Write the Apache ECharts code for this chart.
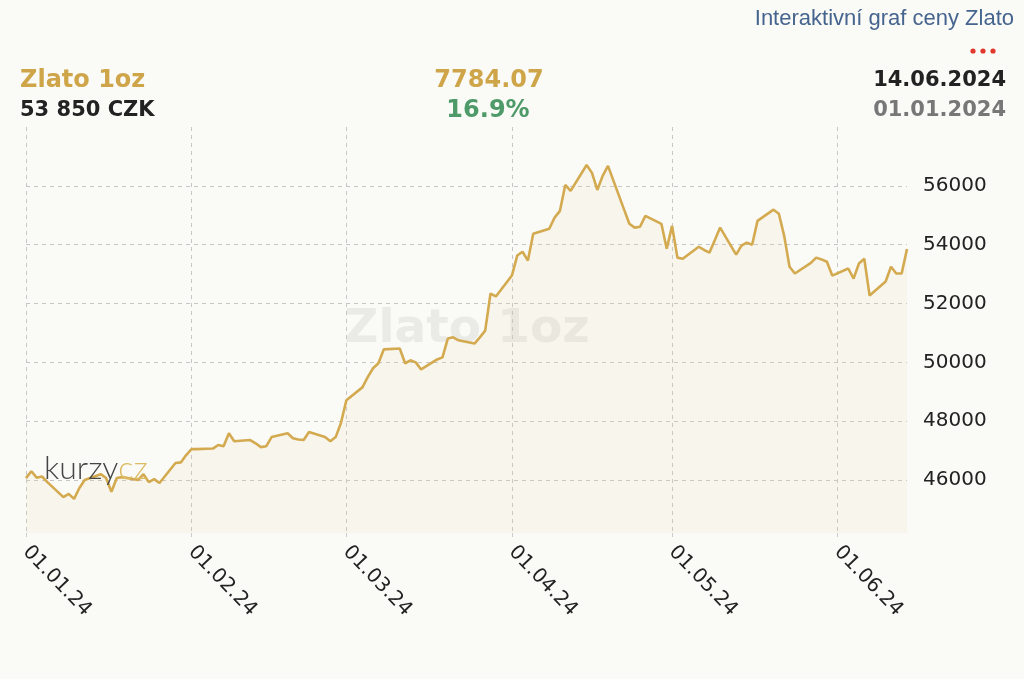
<!DOCTYPE html>
<html>
<head>
<meta charset="utf-8">
<script src="https://cdn.jsdelivr.net/npm/echarts@6/dist/echarts.min.js"></script>
<style>
html,body{margin:0;padding:0;background:#fafaf7;}
#c{width:1024px;height:679px;}
</style>
</head>
<body>
<div id="c"></div>
<script>
// ---- data ----
const dates = [
 '2024-01-01','2024-01-02','2024-01-03','2024-01-04','2024-01-05',
 '2024-01-08','2024-01-09','2024-01-10','2024-01-11','2024-01-12',
 '2024-01-15','2024-01-16','2024-01-17','2024-01-18','2024-01-19',
 '2024-01-22','2024-01-23','2024-01-24','2024-01-25','2024-01-26',
 '2024-01-29','2024-01-30','2024-01-31','2024-02-01','2024-02-02',
 '2024-02-05','2024-02-06','2024-02-07','2024-02-08','2024-02-09',
 '2024-02-12','2024-02-13','2024-02-14','2024-02-15','2024-02-16',
 '2024-02-19','2024-02-20','2024-02-21','2024-02-22','2024-02-23',
 '2024-02-26','2024-02-27','2024-02-28','2024-02-29','2024-03-01',
 '2024-03-04','2024-03-05','2024-03-06','2024-03-07','2024-03-08',
 '2024-03-11','2024-03-12','2024-03-13','2024-03-14','2024-03-15',
 '2024-03-18','2024-03-19','2024-03-20','2024-03-21','2024-03-22',
 '2024-03-25','2024-03-26','2024-03-27','2024-03-28','2024-03-29',
 '2024-04-01','2024-04-02','2024-04-03','2024-04-04','2024-04-05',
 '2024-04-08','2024-04-09','2024-04-10','2024-04-11','2024-04-12',
 '2024-04-15','2024-04-16','2024-04-17','2024-04-18','2024-04-19',
 '2024-04-22','2024-04-23','2024-04-24','2024-04-25','2024-04-26',
 '2024-04-29','2024-04-30','2024-05-01','2024-05-02','2024-05-03',
 '2024-05-06','2024-05-07','2024-05-08','2024-05-09','2024-05-10',
 '2024-05-13','2024-05-14','2024-05-15','2024-05-16','2024-05-17',
 '2024-05-20','2024-05-21','2024-05-22','2024-05-23','2024-05-24',
 '2024-05-27','2024-05-28','2024-05-29','2024-05-30','2024-05-31',
 '2024-06-03','2024-06-04','2024-06-05','2024-06-06','2024-06-07',
 '2024-06-10','2024-06-11','2024-06-12','2024-06-13','2024-06-14'
];
const prices = [
 46066,46300,46080,46120,45930,
 45420,45530,45360,45730,46000,
 46200,46070,45600,46070,46100,
 46000,46200,45930,46030,45900,
 46580,46600,46850,47050,47050,
 47070,47190,47150,47590,47320,
 47360,47250,47120,47150,47460,
 47590,47420,47380,47360,47630,
 47460,47320,47460,47950,48710,
 49150,49500,49800,49970,50440,
 50470,49970,50070,50000,49760,
 50100,50170,50810,50850,50750,
 50640,50850,51080,52340,52240,
 52950,53630,53760,53460,54370,
 54540,54920,55150,56030,55830,
 56710,56440,55860,56340,56680,
 55200,54710,54580,54610,54980,
 54710,53860,54640,53560,53520,
 53930,53820,53730,54150,54580,
 53660,53970,54070,54000,54810,
 55190,55050,54300,53250,53020,
 53380,53560,53500,53420,52950,
 53190,52850,53360,53520,52270,
 52750,53250,53020,53020,53850
];
const tickDates = ['2024-01-01','2024-02-01','2024-03-01','2024-04-01','2024-05-01','2024-06-01'];
const tickLabels = ['01.01.24','01.02.24','01.03.24','01.04.24','01.05.24','01.06.24'];
const yMin = 44200, yMax = 58000;

const titleText = 'Interaktivní graf ceny Zlato';
const assetName = 'Zlato 1oz';
const lastPrice = '53 850 CZK';
const absChange = '7784.07';
const pctChange = '16.9%';
const dateEnd = '14.06.2024';
const dateStart = '01.01.2024';
const logoA = 'kurzy', logoB = 'cz';

// ---- chart ----
const seriesData = dates.map((d, i) => [d, prices[i]]);
const tickTimes = tickDates.map(d => echarts.time.parse(d).getTime());
function xLabel(v) {
  const t = typeof v === 'number' ? v : +v;
  for (let i = 0; i < tickTimes.length; i++) {
    if (Math.abs(tickTimes[i] - t) < 43200000) return tickLabels[i];
  }
  return '';
}

const chart = echarts.init(document.getElementById('c'), null, {renderer: 'canvas'});
const boldFont = '"DejaVu Sans", Verdana, sans-serif';
chart.setOption({
  animation: false,
  backgroundColor: '#fafaf7',
  grid: {left: 26, right: 117, top: 127, bottom: 146},
  xAxis: {
    type: 'time',
    min: dates[0],
    max: dates[dates.length - 1],
    splitNumber: 6,
    axisLine: {show: false},
    axisTick: {show: true, length: 4, lineStyle: {color: '#cccccc'}},
    splitLine: {show: true, showMaxLine: false, lineStyle: {color: '#c6c6c6', width: 1, type: [4, 4]}},
    axisLabel: {
      rotate: -46, margin: 16, color: '#222', fontFamily: boldFont, fontSize: 20,
      formatter: xLabel, showMaxLabel: false, hideOverlap: false
    }
  },
  yAxis: {
    type: 'value',
    position: 'right',
    min: yMin, max: yMax, splitNumber: 7,
    axisLine: {show: false},
    axisTick: {show: false},
    axisLabel: {margin: 16, color: '#222', fontFamily: boldFont, fontSize: 20, showMinLabel: false, showMaxLabel: false,
      formatter: v => String(v)},
    splitLine: {show: true, showMinLine: false, showMaxLine: false, lineStyle: {color: '#c6c6c6', width: 1, type: [4, 4]}}
  },
  series: [{
    type: 'line',
    data: seriesData,
    showSymbol: false,
    z: 3,
    lineStyle: {color: '#d4aa50', width: 2.6},
    areaStyle: {color: 'rgba(235,215,150,0.15)'}
  }],
  graphic: [
    {type: 'text', x: 467, y: 330, z: 0, silent: true,
     style: {text: assetName, align: 'center', verticalAlign: 'middle', font: 'bold 47px ' + boldFont, fill: '#eaeae7'}},
    {type: 'text', x: 1014, y: 19,
     style: {text: titleText, align: 'right', verticalAlign: 'middle', font: '22px "Liberation Sans", Arial, sans-serif', fill: '#46658e'}},
    {type: 'circle', shape: {cx: 973, cy: 51, r: 2.6}, style: {fill: '#e0392c'}},
    {type: 'circle', shape: {cx: 983, cy: 51, r: 2.6}, style: {fill: '#e0392c'}},
    {type: 'circle', shape: {cx: 993, cy: 51, r: 2.6}, style: {fill: '#e0392c'}},
    {type: 'text', x: 20, y: 81,
     style: {text: assetName, align: 'left', verticalAlign: 'middle', font: 'bold 24px ' + boldFont, fill: '#cfa54a'}},
    {type: 'text', x: 20, y: 111,
     style: {text: lastPrice, align: 'left', verticalAlign: 'middle', font: 'bold 21px ' + boldFont, fill: '#222222'}},
    {type: 'text', x: 489, y: 81,
     style: {text: absChange, align: 'center', verticalAlign: 'middle', font: 'bold 24px ' + boldFont, fill: '#cfa54a'}},
    {type: 'text', x: 488, y: 111,
     style: {text: pctChange, align: 'center', verticalAlign: 'middle', font: 'bold 24px ' + boldFont, fill: '#4e9a68'}},
    {type: 'text', x: 1006, y: 81,
     style: {text: dateEnd, align: 'right', verticalAlign: 'middle', font: 'bold 21px ' + boldFont, fill: '#222222'}},
    {type: 'text', x: 1006, y: 111,
     style: {text: dateStart, align: 'right', verticalAlign: 'middle', font: 'bold 21px ' + boldFont, fill: '#777777'}},
    {type: 'text', x: 44, y: 469, z: 10, silent: true,
     style: {text: '{a|' + logoA + '}{b|' + logoB + '}', verticalAlign: 'middle',
       rich: {a: {font: '300 32px Lato, "Noto Sans", sans-serif', fill: '#454545', color: '#454545'},
              b: {font: '300 32px Lato, "Noto Sans", sans-serif', fill: '#dcbc62', color: '#dcbc62'}}}}
  ]
});
</script>
</body>
</html>
